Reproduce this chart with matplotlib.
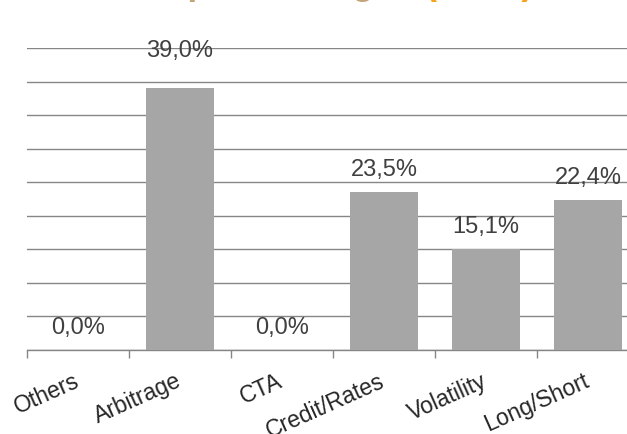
import matplotlib.pyplot as plt
import matplotlib.transforms as mtransforms
import numpy as np

strategies = ['Others', 'Arbitrage', 'CTA', 'Credit/Rates', 'Volatility', 'Long/Short']
weights = [0.0, 39.0, 0.0, 23.5, 15.1, 22.4]
label_pad = [11.5, 22.5, 11.5, 11.5, 11.5, 11.5]  # points above the bar

plt.rcParams['font.family'] = ['Liberation Sans', 'DejaVu Sans']

fig = plt.figure(figsize=(6.27, 4.34), dpi=100)
ax = fig.add_axes([27 / 627, 1 - 350 / 434, 612 / 627, (350 - 48) / 434])

x = np.arange(len(strategies))
ax.bar(x, weights, width=0.66, color='#a6a6a6', zorder=3)

for xi, v, p in zip(x, weights, label_pad):
    ax.annotate(f'{v:.1f}%'.replace('.', ','), (xi, v), xytext=(0, p),
                textcoords='offset points', ha='center', va='baseline',
                fontsize=17, color='#404040', zorder=4)

ax.set_xlim(-0.5, len(strategies) - 0.5)
ax.set_ylim(0, 45)
ax.set_yticks(np.arange(0, 46, 5))
ax.yaxis.grid(True, color='#868686', linewidth=1.0, zorder=0)
ax.tick_params(axis='y', left=False, labelleft=False)

ax.set_xticks(x)
ax.set_xticklabels(strategies, rotation=24, ha='right', va='top',
                   rotation_mode='anchor', fontsize=16.5, color='#262626')
ax.tick_params(axis='x', which='major', length=0, pad=14)
ax.set_xticks(np.arange(len(strategies)) - 0.5, minor=True)
ax.tick_params(axis='x', which='minor', length=5.5, width=1.0, color='#868686')
shift = mtransforms.ScaledTranslation(-5 / 100, 0, fig.dpi_scale_trans)
for lab in ax.get_xticklabels():
    lab.set_transform(lab.get_transform() + shift)

for s in ['top', 'right', 'left']:
    ax.spines[s].set_visible(False)
ax.spines['bottom'].set_color('#868686')
ax.spines['bottom'].set_linewidth(1.0)

# title sits mostly above the visible area
fig.text(3 / 627, 1 + 6 / 434, 'Allocation par stratégie', fontsize=26, fontweight='bold',
         color='#c4a47a', ha='left', va='baseline')
fig.text(425 / 627, 1 + 6 / 434, '(en %)', fontsize=26, fontweight='bold',
         color='#f7a21c', ha='left', va='baseline')

plt.savefig('out.png', dpi=100)
